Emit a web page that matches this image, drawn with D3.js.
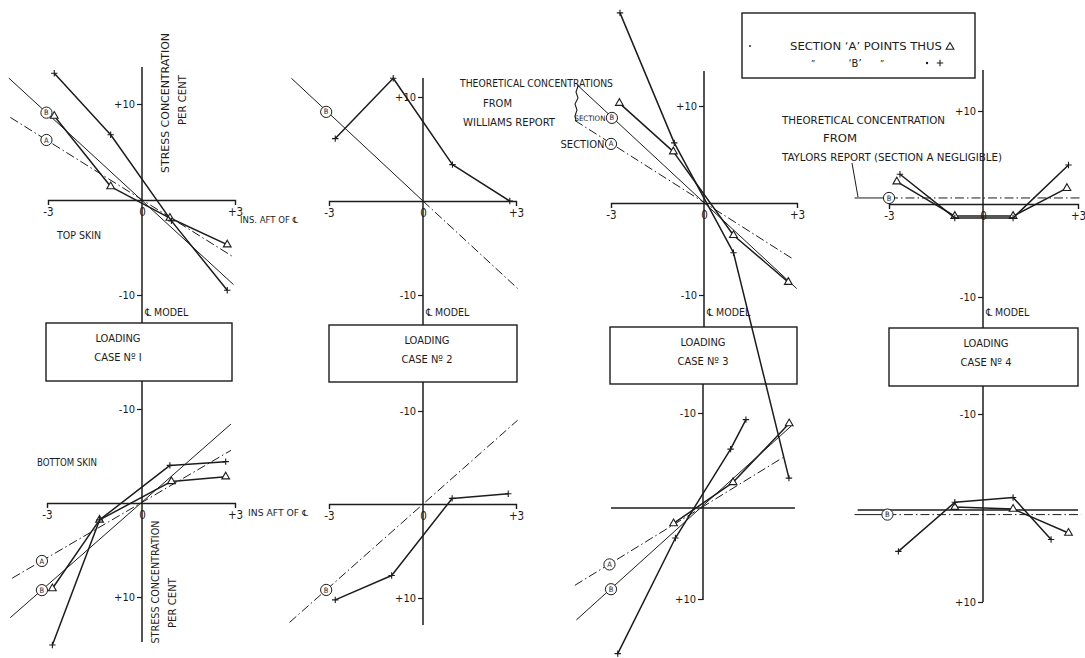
<!DOCTYPE html>
<html>
<head>
<meta charset="utf-8">
<script src="https://cdn.jsdelivr.net/npm/d3@7"></script>
<style>
  html, body { margin: 0; background: #fff; }
  svg { display: block; font-family: "DejaVu Sans Condensed", "Liberation Sans Narrow", "Liberation Sans", sans-serif; }
</style>
</head>
<body>
<svg id="chart" width="1085" height="658"></svg>
<script>
// Stress concentration (per cent) against distance in inches aft of the model centre line.
// Each reading is [inches aft of centre line, stress concentration %].

const caseNames = ["I", "2", "3", "4"];
const xTickLabels = ["-3", "0", "+3"];
const yTickLabels = { "10": "+10", "-10": "-10" };

// ---- Top skin, measured points (section A = triangles, section B = crosses)
const topA1 = [[-2.8, 8.75], [-1.0, 1.4], [0.9, -1.9], [2.75, -4.7]];
const topB1 = [[-2.8, 13.2], [-1.0, 6.8], [0.95, -2.2], [2.75, -9.5]];
const topB2 = [[-2.8, 6.0], [-0.95, 11.8], [0.95, 3.5], [2.8, 0.0]];
const topA3 = [[-2.73, 10.3], [-0.99, 5.3], [0.95, -3.5], [2.72, -8.6]];
const topB3 = [[-2.71, 19.6], [-0.96, 6.2], [0.95, -5.4], [2.74, -29.9]];
const topA4 = [[-2.75, 2.4], [-0.9, -1.3], [0.95, -1.3], [2.65, 1.7]];
const topB4 = [[-2.65, 3.2], [-0.9, -1.5], [0.95, -1.5], [2.7, 4.2]];

// ---- Bottom skin, measured points
const botA1 = [[-2.83, 9.1], [-1.34, 1.8], [0.95, -2.3], [2.7, -2.8]];
const botB1 = [[-2.83, 15.1], [-1.34, 1.8], [0.9, -4.0], [2.7, -4.4]];
const botB2 = [[-2.8, 10.2], [-1.0, 7.6], [0.94, -0.6], [2.75, -1.1]];
const botA3 = [[-0.96, 1.7], [0.98, -2.7], [2.81, -8.9]];
const botB3 = [[-2.78, 16.0], [-0.9, 3.3], [0.9, -6.2], [1.4, -9.3]];
const botA4 = [[-0.9, -0.3], [0.95, -0.1], [2.7, 2.5]];
const botB4 = [[-2.7, 4.5], [-0.9, -0.8], [0.95, -1.3], [2.15, 3.2]];

// ---- Theoretical concentrations (Williams report for cases 1-3, Taylor report for case 4)
const thTopA1 = [[-4.2, 8.6], [2.95, -6.0]];
const thTopB1 = [[-4.25, 12.7], [2.95, -8.9]];
const thTopB2 = [[-4.2, 11.8], [0, 0], [3.05, -9.3]];
const thTopA3 = [[-4.16, 8.5], [2.83, -6.0]];
const thTopB3 = [[-4.1, 12.2], [2.99, -9.3]];
const thTopB4 = [[-4.1, 0.65], [-3.0, 0.65], [3.1, 0.65]];
const thBotA1 = [[-4.1, 8.0], [2.87, -5.6]];
const thBotB1 = [[-4.16, 12.2], [2.87, -8.4]];
const thBotB2 = [[-4.26, 12.6], [3.05, -9.0]];
const thBotA3 = [[-4.18, 8.5], [2.6, -5.3]];
const thBotB3 = [[-4.13, 12.3], [2.9, -8.7]];
const thBotB4 = [[-4.1, 0.5], [-3.05, 0.5], [3.1, 0.5]];

// ---- Panel geometry: pixel positions of x = -3, 0, +3 and of y = -10, 0, +10
const panels = [
  { skin: "top", c: 0, xr: [48, 142, 235], yr: [295, 200, 104], axTop: 67, axBot: 323,
    series: [["A", topA1], ["B", topB1]],
    theory: [["A", thTopA1, "dashdot", -3.05], ["B", thTopB1, "solid", -3.05]] },
  { skin: "top", c: 1, xr: [329, 423, 516], yr: [295, 201, 97], axTop: 78, axBot: 325,
    series: [["B", topB2]],
    theory: [["B", thTopB2, "solid-dash", -3.09]] },
  { skin: "top", c: 2, xr: [611, 704, 797], yr: [295, 203, 106], axTop: 71, axBot: 327,
    series: [["A", topA3], ["B", topB3]],
    theory: [["A", thTopA3, "dashdot", -3.0], ["B", thTopB3, "solid", -2.97]] },
  { skin: "top", c: 3, xr: [889, 983, 1078], yr: [297, 204, 111], axTop: 70, axBot: 328,
    series: [["A", topA4], ["B", topB4]],
    theory: [["B", thTopB4, "solid-dash", -3.0]] },
  { skin: "bottom", c: 0, xr: [47, 142, 235], yr: [409, 503, 597], axTop: 381, axBot: 642,
    series: [["A", botA1], ["B", botB1]],
    theory: [["A", thBotA1, "dashdot", -3.16], ["B", thBotB1, "solid", -3.16]] },
  { skin: "bottom", c: 1, xr: [329, 423, 516], yr: [411, 504, 598], axTop: 382, axBot: 625,
    series: [["B", botB2]],
    theory: [["B", thBotB2, "dashdot", -3.09]] },
  { skin: "bottom", c: 2, xr: [611, 703, 795], yr: [413, 508, 599], axTop: 384, axBot: 600, plainX: [-3, 3],
    series: [["A", botA3], ["B", botB3]],
    theory: [["A", thBotA3, "dashdot", -3.05], ["B", thBotB3, "solid", -3.0]] },
  { skin: "bottom", c: 3, xr: [889, 983, 1078], yr: [414, 510, 602], axTop: 386, axBot: 602, plainX: [-4.0, 3.0],
    series: [["A", botA4], ["B", botB4]],
    theory: [["B", thBotB4, "solid-dash", -3.05]] }
];

// Loading case boxes: [left, top, right, bottom] and text centre
const caseBoxes = [[46, 323, 232, 381], [329, 325, 517, 382], [610, 327, 797, 384], [889, 328, 1078, 386]];
const caseTextX = [118, 427, 703, 986];

const ink = "#1c1c1c";
const svg = d3.select("#chart");

const dashStyle = { solid: null, dashdot: "9,3,1.5,3" };

function markerPath(sec) {
  if (sec === "A") return d3.symbol(d3.symbolTriangle, 26)();
  return "M-3.2,0H3.2M0,-3.2V3.2";
}

function circleTag(g, cx, cy, letter) {
  g.append("circle").attr("cx", cx).attr("cy", cy).attr("r", 5.6)
    .attr("fill", "#fff").attr("stroke", ink).attr("stroke-width", 1);
  g.append("text").attr("x", cx).attr("y", cy + 2.6).attr("text-anchor", "middle")
    .attr("font-size", 7.5).attr("fill", ink).text(letter);
}

// Loading case boxes (drawn first so lines may run across them)
caseBoxes.forEach((b, i) => {
  const g = svg.append("g");
  g.append("rect").attr("x", b[0]).attr("y", b[1]).attr("width", b[2] - b[0]).attr("height", b[3] - b[1])
    .attr("fill", "none").attr("stroke", ink).attr("stroke-width", 1.4);
  g.append("text").attr("x", caseTextX[i]).attr("y", b[1] + 19).attr("text-anchor", "middle")
    .attr("font-size", 11).attr("fill", ink).text("LOADING");
  g.append("text").attr("x", caseTextX[i]).attr("y", b[1] + 38).attr("text-anchor", "middle")
    .attr("font-size", 11).attr("fill", ink).text("CASE  Nº " + caseNames[i]);
});

panels.forEach(p => {
  const x = d3.scaleLinear().domain([-3, 0, 3]).range(p.xr);
  const y = d3.scaleLinear().domain([-10, 0, 10]).range(p.yr);
  const g = svg.append("g");
  const line = d3.line().x(d => x(d[0])).y(d => y(d[1]));

  // centre line of model
  g.append("line").attr("x1", x(0)).attr("x2", x(0)).attr("y1", p.axTop).attr("y2", p.axBot)
    .attr("stroke", ink).attr("stroke-width", 1.5);

  // horizontal axis
  if (p.plainX) {
    g.append("path").attr("d", line([[p.plainX[0], 0], [p.plainX[1], 0]]))
      .attr("stroke", ink).attr("stroke-width", 1.4).attr("fill", "none");
  } else {
    const ax = d3.axisBottom(x).tickValues([-3, 0, 3]).tickSize(0).tickSizeOuter(5).tickPadding(8)
      .tickFormat((d, i) => xTickLabels[i]);
    const axg = g.append("g").attr("transform", `translate(0,${y(0)})`).call(ax);
    axg.select(".domain").attr("stroke", ink).attr("stroke-width", 1.4);
    axg.selectAll("text").attr("font-size", 11.5).attr("fill", ink)
      .attr("font-family", "\"DejaVu Sans Condensed\", sans-serif");
  }

  // ±10 ticks on the centre line
  const ay = d3.axisLeft(y).tickValues([10, -10]).tickSize(5).tickPadding(2)
    .tickFormat(d => yTickLabels[String(d)]);
  const ayg = g.append("g").attr("transform", `translate(${x(0)},0)`).call(ay);
  ayg.select(".domain").remove();
  ayg.selectAll("line").attr("stroke", ink).attr("stroke-width", 1.2);
  ayg.selectAll("text").attr("font-size", 11).attr("fill", ink)
    .attr("font-family", "\"DejaVu Sans Condensed\", sans-serif");

  // theoretical lines
  p.theory.forEach(([sec, pts, style, tagX]) => {
    if (style === "solid-dash") {
      g.append("path").attr("d", line(pts.slice(0, 2))).attr("fill", "none")
        .attr("stroke", ink).attr("stroke-width", 1);
      g.append("path").attr("d", line(pts.slice(1))).attr("fill", "none")
        .attr("stroke", ink).attr("stroke-width", 1).attr("stroke-dasharray", dashStyle.dashdot);
    } else {
      g.append("path").attr("d", line(pts)).attr("fill", "none")
        .attr("stroke", ink).attr("stroke-width", 1).attr("stroke-dasharray", dashStyle[style]);
    }
    const a = pts[0], b = pts[pts.length - 1];
    const t = (tagX - a[0]) / (b[0] - a[0]);
    const tagY = a[1] + t * (b[1] - a[1]);
    p.tag = p.tag || {};
    p.tag[sec] = [x(tagX), y(tagY)];
  });

  // measured points
  p.series.forEach(([sec, pts]) => {
    g.append("path").attr("d", line(pts)).attr("fill", "none")
      .attr("stroke", ink).attr("stroke-width", 1.5).attr("stroke-linejoin", "round");
    g.selectAll(null).data(pts).join("path")
      .attr("transform", d => `translate(${x(d[0])},${y(d[1])})`)
      .attr("d", markerPath(sec))
      .attr("fill", sec === "A" ? "#fff" : "none").attr("stroke", ink).attr("stroke-width", 1.1);
  });

  // circled section letters on the theoretical lines
  Object.entries(p.tag).forEach(([sec, pos]) => circleTag(g, pos[0], pos[1], sec));

  // centre-line caption
  if (p.skin === "top") {
    g.append("text").attr("x", x(0) + 3).attr("y", 316).attr("font-size", 10.5).attr("fill", ink)
      .text("℄ MODEL");
  }
  p.x = x; p.y = y;
});

// ---- annotations
const note = (x, y, s, size, opts = {}) => {
  const t = svg.append("text").attr("x", x).attr("y", y).attr("font-size", size).attr("fill", ink)
    .attr("text-anchor", opts.anchor || "start").text(s);
  if (opts.len) t.attr("textLength", opts.len).attr("lengthAdjust", "spacingAndGlyphs");
  if (opts.rotate) t.attr("transform", `rotate(-90,${x},${y})`);
  return t;
};

note(57, 239, "TOP SKIN", 11, { len: 44 });
note(37, 466, "BOTTOM SKIN", 11, { len: 60 });
note(240, 223, "INS. AFT OF ℄", 8.5, { len: 58 });
note(248, 516, "INS AFT OF ℄", 8.5, { len: 60 });

// vertical axis titles
note(169, 103, "STRESS CONCENTRATION", 11, { anchor: "middle", rotate: true, len: 140 });
note(186, 100, "PER CENT", 11, { anchor: "middle", rotate: true, len: 50 });
note(159, 582, "STRESS CONCENTRATION", 11, { anchor: "middle", rotate: true, len: 123 });
note(176, 603, "PER CENT", 11, { anchor: "middle", rotate: true, len: 50 });

// Williams report note
note(460, 87, "THEORETICAL CONCENTRATIONS", 10.5, { len: 153 });
note(483, 107, "FROM", 10.5, { len: 29 });
note(463, 126, "WILLIAMS  REPORT", 10.5, { len: 92 });
svg.append("path").attr("d", "M578,86 L576,92 L578,98 L575,104 L577,110 L575,116 L576,121")
  .attr("fill", "none").attr("stroke", ink).attr("stroke-width", 1.1);
{
  const tB = panels[2].tag.B, tA = panels[2].tag.A;
  note(tB[0] - 6.5, tB[1] + 3, "SECTION", 7.5, { anchor: "end", len: 31 });
  note(tA[0] - 6.5, tA[1] + 4, "SECTION", 10.5, { anchor: "end", len: 44 });
}

// Taylor report note
note(782, 124, "THEORETICAL CONCENTRATION", 10.5, { len: 163 });
note(823, 142, "FROM", 10.5, { len: 34 });
note(782, 161, "TAYLORS REPORT (SECTION A NEGLIGIBLE)", 10.5, { len: 220 });
svg.append("path").attr("d", "M852,163 L858,197").attr("stroke", ink).attr("stroke-width", 1).attr("fill", "none");

// Key box
svg.append("rect").attr("x", 742).attr("y", 13).attr("width", 233).attr("height", 65)
  .attr("fill", "none").attr("stroke", ink).attr("stroke-width", 1.4);
note(790, 50, "SECTION  ‘A’  POINTS  THUS", 11, { len: 152 });
svg.append("path").attr("transform", "translate(950,47)").attr("d", markerPath("A"))
  .attr("fill", "#fff").attr("stroke", ink).attr("stroke-width", 1.1);
note(813, 67, "\u201D", 9, { anchor: "middle" });
note(855, 67, "‘B’", 11, { anchor: "middle" });
note(882, 67, "\u201D", 9, { anchor: "middle" });
svg.append("circle").attr("cx", 927).attr("cy", 63).attr("r", 1.2).attr("fill", ink);
svg.append("path").attr("transform", "translate(940,63)").attr("d", markerPath("B"))
  .attr("fill", "none").attr("stroke", ink).attr("stroke-width", 1.1);
svg.append("circle").attr("cx", 750).attr("cy", 46).attr("r", 0.9).attr("fill", ink);
</script>
</body>
</html>
